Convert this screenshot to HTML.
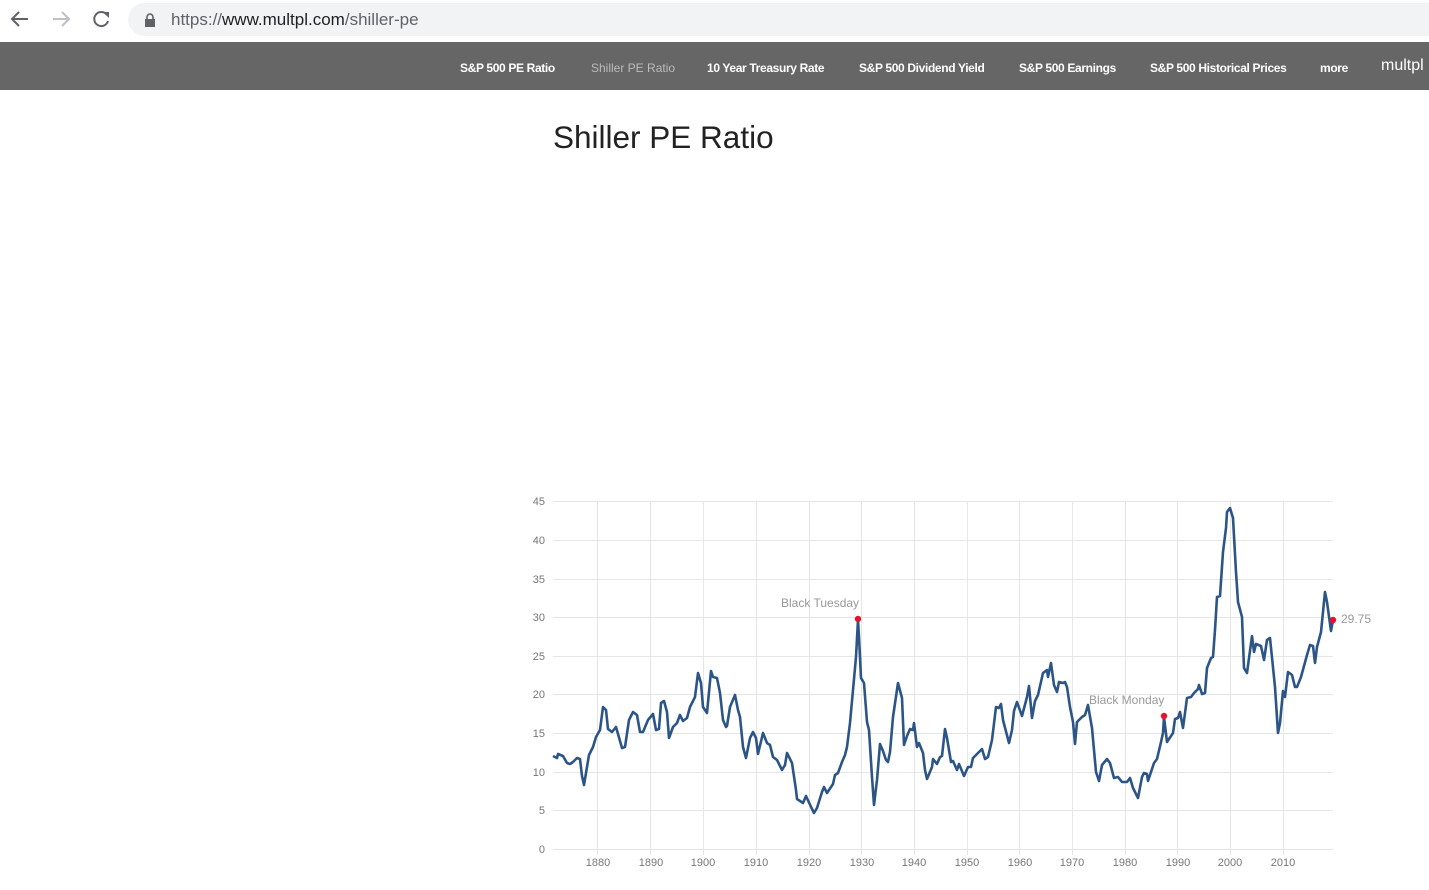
<!DOCTYPE html>
<html><head><meta charset="utf-8"><style>
body{margin:0;width:1429px;height:890px;overflow:hidden;background:#fff;font-family:"Liberation Sans",Arial,sans-serif;position:relative}
.bar{position:absolute;left:0;top:0;width:1429px;height:42px;background:#fff}
.url{position:absolute;left:128px;top:3px;width:1320px;height:33px;border-radius:17px;background:#f1f3f4}
.url span{position:absolute;left:43px;top:7px;font-size:17px;color:#5f6368}
.url b{font-weight:normal;color:#202124}
.nav{position:absolute;left:0;top:42px;width:1429px;height:48px;background:#666}
.nav a{position:absolute;top:19px;font-size:12px;font-weight:bold;color:#fff;white-space:nowrap;letter-spacing:-0.35px}
h1{position:absolute;left:553px;top:119px;margin:0;font-size:31.5px;font-weight:normal;color:#222}
</style></head><body>
<div class="bar">
<svg width="128" height="42" style="position:absolute;left:0;top:0">
<g stroke="#5f6368" stroke-width="2" fill="none"><path d="M12 19h16M19 12l-7 7 7 7"/></g>
<g stroke="#bdc1c6" stroke-width="2" fill="none"><path d="M53 19h16M62 12l7 7-7 7"/></g>
<path d="M107 15a7 7 0 1 0 1 6" stroke="#5f6368" stroke-width="2" fill="none"/><path d="M103 12h6v6z" fill="#5f6368"/>
</svg>
<div class="url"><svg width="14" height="14" style="position:absolute;left:16px;top:10px"><rect x="1" y="6" width="10" height="8" fill="#5f6368"/><path d="M3 6V4a3 3 0 0 1 6 0v2" stroke="#5f6368" stroke-width="1.6" fill="none"/></svg><span>https://<b>www.multpl.com</b>/shiller-pe</span></div>
</div>
<div class="nav">
<a style="left:460px">S&amp;P 500 PE Ratio</a>
<a style="left:591px;color:#bbb;font-weight:normal;letter-spacing:0">Shiller PE Ratio</a>
<a style="left:707px">10 Year Treasury Rate</a>
<a style="left:859px">S&amp;P 500 Dividend Yield</a>
<a style="left:1019px">S&amp;P 500 Earnings</a>
<a style="left:1150px">S&amp;P 500 Historical Prices</a>
<a style="left:1320px">more</a>
<a style="left:1381px;top:15px;font-size:16px;font-weight:normal;letter-spacing:0">multpl</a>
</div>
<h1>Shiller PE Ratio</h1>
<svg width="1429" height="890" style="position:absolute;left:0;top:0" font-family="Liberation Sans,Arial,sans-serif">
<g stroke="#e6e6e6" stroke-width="1">
<path d="M553 501.5H1333M553 540.5H1333M553 579.5H1333M553 617.5H1333M553 656.5H1333M553 694.5H1333M553 733.5H1333M553 772.5H1333M553 810.5H1333M553 849.5H1333"/>
<path d="M597.5 501V855M650.5 501V855M703.5 501V855M756.5 501V855M809.5 501V855M861.5 501V855M914.5 501V855M967.5 501V855M1019.5 501V855M1072.5 501V855M1125.5 501V855M1177.5 501V855M1230.5 501V855M1283.5 501V855"/>
</g>
<g font-size="11" fill="#777" text-anchor="end">
<text x="545" y="505">45</text><text x="545" y="544">40</text><text x="545" y="583">35</text><text x="545" y="621">30</text><text x="545" y="660">25</text><text x="545" y="698">20</text><text x="545" y="737">15</text><text x="545" y="776">10</text><text x="545" y="814">5</text><text x="545" y="853">0</text>
</g>
<g font-size="11" fill="#777" text-anchor="middle">
<text x="598" y="866">1880</text><text x="651" y="866">1890</text><text x="703" y="866">1900</text><text x="756" y="866">1910</text><text x="809" y="866">1920</text><text x="862" y="866">1930</text><text x="914" y="866">1940</text><text x="967" y="866">1950</text><text x="1020" y="866">1960</text><text x="1072" y="866">1970</text><text x="1125" y="866">1980</text><text x="1178" y="866">1990</text><text x="1230" y="866">2000</text><text x="1283" y="866">2010</text>
</g>
<polyline fill="none" stroke="#2c5587" stroke-width="2.6" stroke-linejoin="round" points="553,756 557,758 558,754 563,756 567,763 570,764 573,762 577,758 580,759 582,776 584,785 589,755 593,747 596,737 600,730 603,707 606,710 608,729 612,732 616,727 622,748 625,747 629,720 633,712 637,715 640,732 643,732 648,720 653,714 656,730 659,729 661,703 664,701 667,712 669,738 673,727 677,723 680,715 683,721 687,718 690,707 695,697 698,673 701,683 703,707 707,713 711,671 713,677 717,678 720,693 723,720 726,727 727,726 730,707 735,695 738,710 740,717 743,747 746,758 750,738 753,732 756,738 758,754 763,733 767,743 770,745 773,757 777,760 782,770 785,765 787,753 792,763 796,790 797,799 803,803 806,796 812,809 814,813 817,808 822,792 824,787 827,793 833,784 835,775 838,773 842,762 845,755 847,747 850,723 853,690 856,657 858,620 859,637 861,678 864,683 867,722 869,730 872,777 874,805 877,780 880,744 883,751 886,760 888,762 890,752 893,717 898,683 902,698 904,745 907,736 910,729 913,730 914,723 917,747 919,743 923,753 925,770 927,779 932,767 933,759 937,764 940,757 942,756 945,729 947,738 951,762 953,761 957,770 959,764 964,776 968,767 971,767 973,758 977,754 982,749 985,759 988,757 992,740 996,707 999,708 1001,704 1003,720 1009,743 1012,730 1014,711 1017,702 1022,716 1027,697 1029,686 1032,718 1035,701 1038,695 1043,673 1047,670 1048,677 1051,663 1054,685 1057,692 1059,682 1063,683 1065,682 1067,687 1070,707 1073,722 1075,744 1077,722 1082,717 1085,715 1088,705 1092,728 1096,772 1099,781 1102,765 1107,759 1110,763 1114,778 1118,777 1122,782 1127,782 1130,778 1133,788 1138,798 1142,777 1144,773 1147,774 1148,781 1154,763 1157,759 1161,742 1163,733 1164,717 1167,742 1173,733 1175,719 1178,718 1180,712 1183,728 1187,698 1191,697 1194,693 1198,689 1199,685 1202,694 1205,693 1207,668 1211,658 1213,657 1215,630 1217,597 1220,596 1223,552 1226,528 1227,512 1230,508 1233,518 1236,572 1238,602 1242,617 1244,668 1247,673 1252,636 1254,652 1256,644 1261,646 1264,660 1267,640 1270,638 1275,687 1278,733 1280,723 1283,691 1285,697 1288,672 1292,675 1295,687 1297,687 1301,677 1307,655 1310,645 1313,646 1315,663 1317,647 1321,632 1325,592 1327,602 1331,631 1333,620"/>
<g fill="#e8112d"><circle cx="858" cy="619" r="3.2"/><circle cx="1164" cy="716" r="3.2"/><circle cx="1333" cy="620" r="3.2"/></g>
<g font-size="12" fill="#999">
<text x="781" y="607">Black Tuesday</text>
<text x="1089" y="704">Black Monday</text>
<text x="1341" y="623">29.75</text>
</g>
</svg>
</body></html>
